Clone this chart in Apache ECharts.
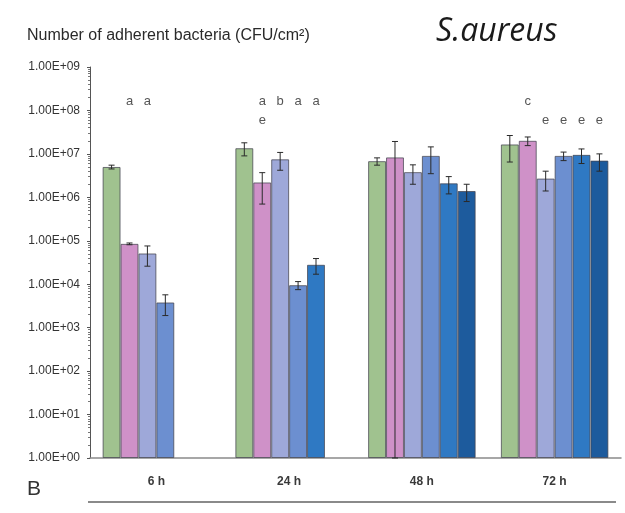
<!DOCTYPE html>
<html>
<head>
<meta charset="utf-8">
<script src="https://cdn.jsdelivr.net/npm/echarts@6/dist/echarts.min.js"></script>
<style>
  html, body { margin: 0; padding: 0; background: #fff; }
  #chart { width: 625px; height: 513px; }
</style>
</head>
<body>
<div id="chart"></div>
<script>
// Time points on the x axis
const categories = ['6 h', '24 h', '48 h', '72 h'];

// Mean adherent bacteria (CFU/cm²) per sample, one array per sample
const s1 = [5.0e6, 1.35e7, 6.8e6, 1.65e7];
const s2 = [8.5e4, 2.2e6, 8.3e6, 2.0e7];
const s3 = [5.1e4, 7.5e6, 3.8e6, 2.7e6];
const s4 = [3.8e3, 9.5e3, 9.0e6, 9.0e6];
const s5 = [null, 2.8e4, 2.1e6, 9.5e6];
const s6 = [null, null, 1.4e6, 7.0e6];

// Standard deviations, same order
const e1 = [5.0e5, 4.5e6, 1.3e6, 1.0e7];
const e2 = [4.0e3, 1.5e6, 1.1e7, 4.5e6];
const e3 = [2.5e4, 3.3e6, 1.8e6, 1.3e6];
const e4 = [1.9e3, 2.0e3, 5.5e6, 2.0e6];
const e5 = [null, 1.1e4, 9.0e5, 3.5e6];
const e6 = [null, null, 6.0e5, 3.0e6];

// Y axis tick exponents (1.00E+00 … 1.00E+09)
const yExponents = [0, 1, 2, 3, 4, 5, 6, 7, 8, 9];

// Significance letters: [time index, sample index, letter, row]
const letters = [
  [0, 1, 'a', 0], [0, 2, 'a', 0],
  [1, 1, 'a', 0], [1, 1, 'e', 1], [1, 2, 'b', 0], [1, 3, 'a', 0], [1, 4, 'a', 0],
  [3, 1, 'c', 0], [3, 2, 'e', 1], [3, 3, 'e', 1], [3, 4, 'e', 1], [3, 5, 'e', 1]
];

const means = [s1, s2, s3, s4, s5, s6];
const errs = [e1, e2, e3, e4, e5, e6];
const colors = ['#a0c28f', '#cf91c8', '#9ea8d9', '#6c8fd0', '#2f79c3', '#1d5b9d'];

const CATEGORY_GAP = 0.19;
const N_SLOTS = 6;
const LETTER_LEVELS = [1.6e8, 6.0e7];   // heights of the two letter rows

function slotOffset(api, k) {
  const band = api.size([1, 1])[0];
  const w = band * (1 - CATEGORY_GAP) / N_SLOTS;
  return (k - (N_SLOTS - 1) / 2) * w;
}

const series = [];
means.forEach((m, k) => {
  series.push({
    type: 'bar',
    name: 'S' + (k + 1),
    data: m,
    barGap: '0%',
    barCategoryGap: (CATEGORY_GAP * 100) + '%',
    itemStyle: { color: colors[k], borderColor: 'rgba(70,70,80,0.75)', borderWidth: 1 },
    z: 2
  });
});

means.forEach((m, k) => {
  const data = [];
  m.forEach((v, i) => { if (v != null) data.push([i, v, errs[k][i]]); });
  series.push({
    type: 'custom',
    name: 'err' + (k + 1),
    data: data,
    z: 5,
    silent: true,
    renderItem: function (params, api) {
      const ci = api.value(0), v = api.value(1), e = api.value(2);
      const x = api.coord([ci, v])[0] + slotOffset(api, k);
      const yTop = api.coord([ci, v + e])[1];
      const yBot = api.coord([ci, Math.max(v - e, 1)])[1];
      const cap = 3;
      const st = { stroke: '#2a2a2a', lineWidth: 1 };
      return {
        type: 'group',
        children: [
          { type: 'line', shape: { x1: x, y1: yTop, x2: x, y2: yBot }, style: st },
          { type: 'line', shape: { x1: x - cap, y1: yTop, x2: x + cap, y2: yTop }, style: st },
          { type: 'line', shape: { x1: x - cap, y1: yBot, x2: x + cap, y2: yBot }, style: st }
        ]
      };
    }
  });
});

series.push({
  type: 'custom',
  name: 'letters',
  data: letters.map(l => [l[0], LETTER_LEVELS[l[3]], l[1], l[2]]),
  z: 6,
  silent: true,
  renderItem: function (params, api) {
    const ci = api.value(0), lvl = api.value(1), k = api.value(2);
    const txt = letters[params.dataIndex][2];
    const p = api.coord([ci, lvl]);
    return {
      type: 'text',
      style: {
        x: p[0] + slotOffset(api, k), y: p[1], text: txt,
        fill: '#555', font: '13px "Liberation Sans", Arial, sans-serif',
        align: 'center', verticalAlign: 'middle'
      }
    };
  }
});

const chart = echarts.init(document.getElementById('chart'), null, { renderer: 'canvas' });
chart.setOption({
  backgroundColor: '#fff',
  animation: false,
  grid: { left: 90, right: 4, top: 67, bottom: 55, containLabel: false },
  xAxis: {
    type: 'category',
    data: categories,
    axisLine: { lineStyle: { color: '#8a8a8a', width: 1.5 } },
    axisTick: { show: false },
    axisLabel: {
      color: '#3a3a3a', fontWeight: 'bold', fontSize: 12, margin: 18,
      fontFamily: '"Liberation Sans", Arial, sans-serif'
    }
  },
  yAxis: {
    type: 'log',
    logBase: 10,
    min: Math.pow(10, yExponents[0]),
    max: Math.pow(10, yExponents[yExponents.length - 1]),
    splitLine: { show: false },
    axisLine: { show: true, lineStyle: { color: '#555', width: 1 } },
    axisTick: { show: true, length: 3, lineStyle: { color: '#555' } },
    minorTick: { show: true, splitNumber: 9, length: 2, lineStyle: { color: '#777' } },
    axisLabel: {
      color: '#333', fontSize: 12, margin: 10,
      fontFamily: '"Liberation Sans", Arial, sans-serif',
      formatter: function (v) {
        const ex = Math.round(Math.log10(v));
        return '1.00E+' + (ex < 10 ? '0' : '') + ex;
      }
    }
  },
  graphic: [
    {
      type: 'text', left: 27, top: 28,
      style: { text: 'Number of adherent bacteria (CFU/cm²)', fill: '#2a2a2a',
        font: '16px "Liberation Sans", Arial, sans-serif' }
    },
    {
      type: 'text', left: 436, top: 16,
      style: { text: 'S.aureus', fill: '#1a1a1a',
        font: 'italic 32px "Open Sans", "Liberation Sans", sans-serif' }
    },
    {
      type: 'text', left: 27, top: 479,
      style: { text: 'B', fill: '#333', font: '21px "Liberation Sans", Arial, sans-serif' }
    },
    {
      type: 'line', shape: { x1: 88, y1: 502, x2: 616, y2: 502 },
      style: { stroke: '#8a8a8a', lineWidth: 2 }
    }
  ],
  series: series
});
</script>
</body>
</html>
